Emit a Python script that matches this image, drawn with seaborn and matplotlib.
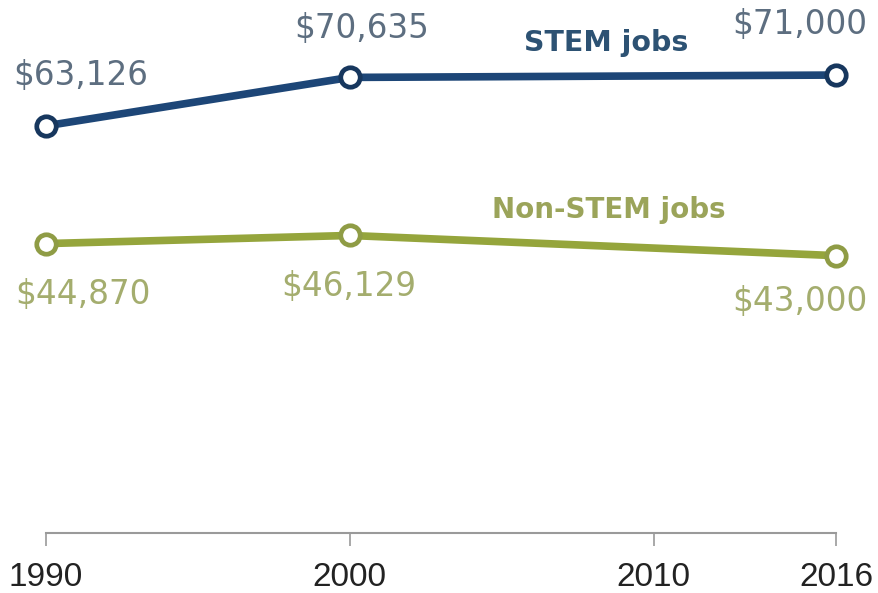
import matplotlib
matplotlib.use("Agg")
import matplotlib.pyplot as plt
import seaborn as sns
import pandas as pd

years = [1990, 2000, 2016]
stem_values = [63126, 70635, 71000]
nonstem_values = [44870, 46129, 43000]
tick_years = [1990, 2000, 2010, 2016]
stem_labels = ["$63,126", "$70,635", "$71,000"]
nonstem_labels = ["$44,870", "$46,129", "$43,000"]

df = pd.DataFrame({
    "year": years * 2,
    "value": stem_values + nonstem_values,
    "group": ["STEM jobs"] * 3 + ["Non-STEM jobs"] * 3,
})

sns.set_style("white")
plt.rcParams["font.family"] = ["DejaVu Sans"]

W, H = 879, 593
fig = plt.figure(figsize=(W / 100, H / 100), dpi=100)
left, right, bottom, top = 46, 836, 533, 17
ax = fig.add_axes([left / W, (H - bottom) / H, (right - left) / W, (bottom - top) / H])

stem_col = "#1d4677"
stem_edge = "#17375e"
non_col = "#95a53c"
non_edge = "#8f9c45"

palette = {"STEM jobs": stem_col, "Non-STEM jobs": non_col}
sns.lineplot(data=df, x="year", y="value", hue="group", palette=palette,
             linewidth=5.5, legend=False, ax=ax, zorder=3, clip_on=False)
for vals, ec in [(stem_values, stem_edge), (nonstem_values, non_edge)]:
    ax.plot(years, vals, linestyle="none", marker="o", markersize=14,
            markerfacecolor="white", markeredgecolor=ec, markeredgewidth=3.4,
            zorder=4, clip_on=False)

ax.set_xlim(1990, 2016)
ax.set_ylim(0, 80000)
ax.set_xlabel("")
ax.set_ylabel("")
ax.set_yticks([])
ax.set_xticks(tick_years)
ax.set_xticklabels([str(t) for t in tick_years], fontfamily="Liberation Sans",
                   fontsize=24, color="#222222")
ax.tick_params(axis="x", length=9, width=1.2, color="#9a9a9a", pad=12, bottom=True)
for s in ["top", "right", "left"]:
    ax.spines[s].set_visible(False)
ax.spines["bottom"].set_color("#9a9a9a")
ax.spines["bottom"].set_linewidth(1.5)

stem_off = [(35, 50), (12, 49), (-36, 51)]
non_off = [(37, -51), (-1, -51), (-36, -46)]
for x, v, lab, off in zip(years, stem_values, stem_labels, stem_off):
    ax.annotate(lab, (x, v), xytext=off, textcoords="offset pixels",
                ha="center", va="center", fontsize=23.5, color="#5d6e80",
                annotation_clip=False)
for x, v, lab, off in zip(years, nonstem_values, nonstem_labels, non_off):
    ax.annotate(lab, (x, v), xytext=off, textcoords="offset pixels",
                ha="center", va="center", fontsize=23.5, color="#a4ad6e",
                annotation_clip=False)

fig.text(606 / W, 1 - 43 / H, "STEM jobs", ha="center", va="center",
         fontsize=20.5, fontweight="bold", color="#2d5273")
fig.text(609 / W, 1 - 210 / H, "Non-STEM jobs", ha="center", va="center",
         fontsize=20, fontweight="bold", color="#9ba45a")

fig.savefig("out.png", dpi=100)
